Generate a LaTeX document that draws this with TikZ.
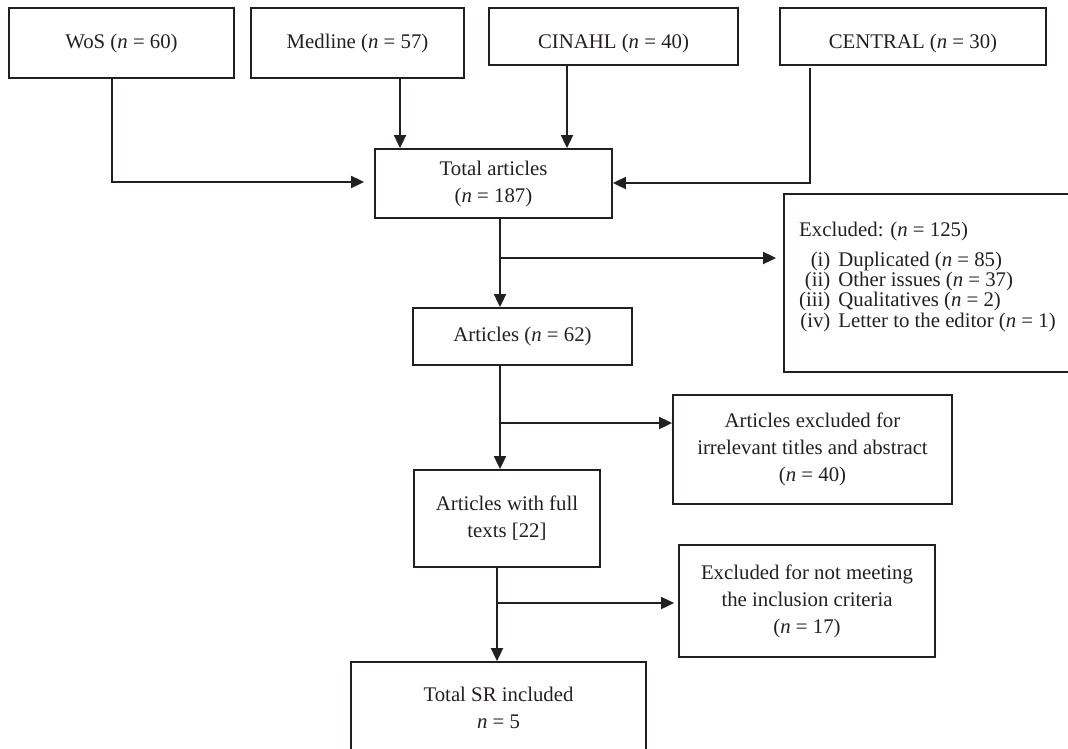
\documentclass[tikz,border=0pt]{standalone}
\usepackage{fontspec}
\setmainfont{Liberation Serif}
\usetikzlibrary{arrows.meta,calc}
\definecolor{ink}{RGB}{35,31,32}
\newcommand\myfs{\fontsize{20.8}{27}\selectfont}
\begin{document}
\begin{tikzpicture}[x=1pt,y=-1pt,
  box/.style={draw=ink, line width=1.8pt, rectangle, inner sep=0pt, font=\myfs, text=ink, align=center},
  arr/.style={draw=ink, line width=1.8pt, -{Triangle[length=13pt,width=12pt]}},
  txt/.style={font=\myfs, text=ink, align=center, inner sep=0pt}]
\useasboundingbox (0,0) rectangle (1068,748);
% top row
\node[box, minimum width=225pt, minimum height=70pt] (wos) at (121.5,43) {WoS (\textit{n} = 60)};
\node[box, minimum width=213pt, minimum height=70pt] (med) at (357.5,43) {Medline (\textit{n} = 57)};
\node[box, minimum width=249pt, minimum height=57pt] (cin) at (613.5,36.5) {};
\node[txt] (cint) at (613.5,43) {CINAHL (\textit{n} = 40)};
\node[box, minimum width=266pt, minimum height=57pt] (cen) at (913,36.5) {};
\node[txt] (cent) at (913,43) {CENTRAL (\textit{n} = 30)};
% main column
\node[box, minimum width=237pt, minimum height=69pt] (tot) at (493.5,183.5) {Total articles\\(\textit{n} = 187)};
\node[box, minimum width=219pt, minimum height=57pt] (art) at (522.5,336.5) {Articles (\textit{n} = 62)};
\node[box, minimum width=186pt, minimum height=97pt] (full) at (507,518.5) {Articles with full\\texts [22]};
\node[box, minimum width=295pt, minimum height=92pt] (sr) at (498.5,708) {Total SR included\\\textit{n} = 5};
% side boxes
\node[box, minimum width=306pt, minimum height=178pt] (exc) at (937,283) {};
\node[anchor=north west, inner sep=0pt, text=ink] (exct) at (799,222) {\fontsize{20.8}{20}\selectfont\begin{tabular}{@{}r@{\hspace{8pt}}l@{}}\multicolumn{2}{@{}l@{}}{Excluded: (\textit{n} = 125)}\\[9pt]
(i) & Duplicated (\textit{n} = 85)\\
(ii) & Other issues (\textit{n} = 37)\\
(iii) & Qualitatives (\textit{n} = 2)\\
(iv) & Letter to the editor (\textit{n} = 1)\end{tabular}};
\node[box, minimum width=279pt, minimum height=109pt] (aex) at (812.5,449.5) {Articles excluded for\\irrelevant titles and abstract\\(\textit{n} = 40)};
\node[box, minimum width=256pt, minimum height=112pt] (nm) at (807,601) {Excluded for not meeting\\the inclusion criteria\\(\textit{n} = 17)};
% connectors into total
\coordinate (c1) at (112,182);
\draw[arr, shorten >=10pt] (c1 |- wos.south) -- (c1) -- (c1 -| tot.west);
\coordinate (mx) at (400,0);
\draw[arr] (mx |- med.south) -- (mx |- tot.north);
\coordinate (cx) at (567,0);
\draw[arr] (cx |- cin.south) -- (cx |- tot.north);
\coordinate (c2) at (810,183);
\draw[arr] ($(c2 |- cen.south)+(0,2)$) -- (c2) -- (c2 -| tot.east);
% trunk and branches
\coordinate (b1) at (500,258);
\draw[arr] (b1 |- tot.south) -- (b1 |- art.north);
\draw[arr, shorten >=7pt] (b1) -- (b1 -| exc.west);
\coordinate (b2) at (500,423);
\draw[arr] (b2 |- art.south) -- (b2 |- full.north);
\draw[arr] (b2) -- (b2 -| aex.west);
\coordinate (b3) at (497,603);
\draw[arr] (b3 |- full.south) -- (b3 |- sr.north);
\draw[arr, shorten >=4pt] (b3) -- (b3 -| nm.west);
\end{tikzpicture}
\end{document}
